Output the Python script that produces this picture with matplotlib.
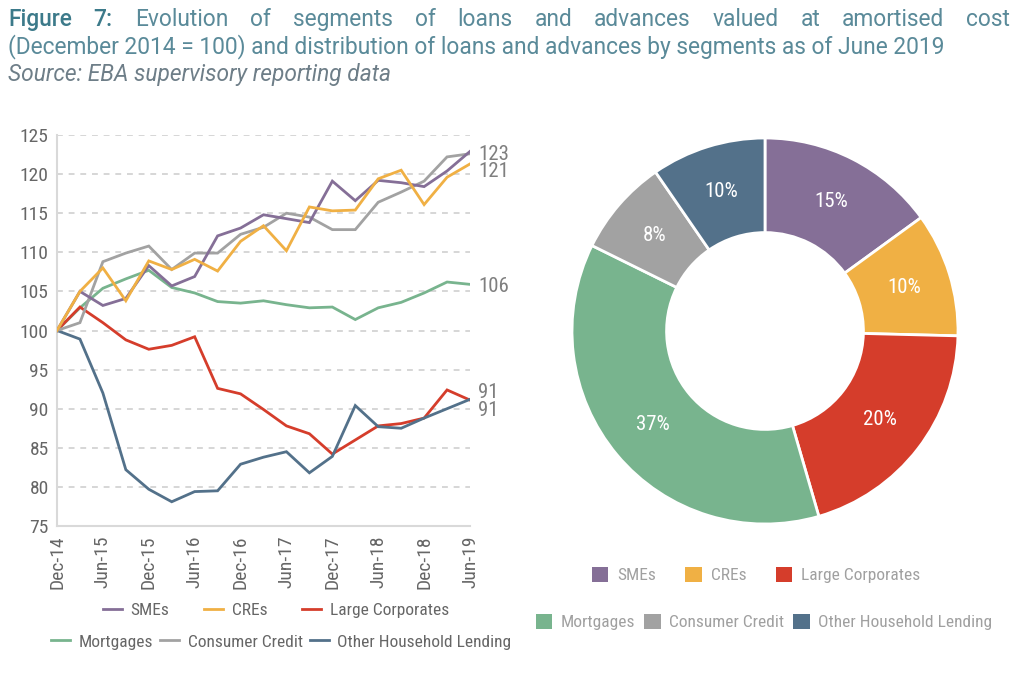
import matplotlib
matplotlib.use('Agg')
import matplotlib.pyplot as plt
from matplotlib import font_manager as fm
from matplotlib.lines import Line2D
from matplotlib.patches import Patch

# ---------------- data ----------------
quarters = ['Dec-14', 'Mar-15', 'Jun-15', 'Sep-15', 'Dec-15', 'Mar-16', 'Jun-16',
            'Sep-16', 'Dec-16', 'Mar-17', 'Jun-17', 'Sep-17', 'Dec-17', 'Mar-18',
            'Jun-18', 'Sep-18', 'Dec-18', 'Mar-19', 'Jun-19']
smes = [100, 105.0, 103.2, 104.1, 108.3, 105.7, 106.9, 112.1, 113.1, 114.8,
        114.3, 113.8, 119.1, 116.6, 119.2, 118.9, 118.4, 120.4, 122.9]
cres = [100, 105.0, 108.0, 103.8, 108.9, 107.8, 109.1, 107.6, 111.4, 113.4,
        110.2, 115.8, 115.3, 115.4, 119.4, 120.5, 116.1, 119.6, 121.3]
large_corporates = [100, 103.0, 101.0, 98.8, 97.6, 98.1, 99.2, 92.6, 91.9, 89.9,
                    87.8, 86.8, 84.2, 86.0, 87.8, 88.1, 88.8, 92.4, 91.1]
mortgages = [100, 102.9, 105.4, 106.6, 107.7, 105.5, 104.8, 103.7, 103.5, 103.8,
             103.3, 102.9, 103.0, 101.4, 102.9, 103.6, 104.8, 106.2, 105.9]
consumer_credit = [100, 101.0, 108.8, 109.9, 110.8, 107.8, 109.9, 109.9, 112.3, 113.2,
                   115.0, 114.5, 112.9, 112.9, 116.4, 117.7, 119.1, 122.2, 122.6]
other_household = [100, 98.9, 92.0, 82.2, 79.7, 78.1, 79.4, 79.5, 82.9, 83.8,
                   84.5, 81.8, 83.9, 90.4, 87.7, 87.5, 88.8, 90.0, 91.2]

segments = ['SMEs', 'CREs', 'Large Corporates', 'Mortgages', 'Consumer Credit',
            'Other Household Lending']
shares_jun19 = [15.0, 10.4, 20.1, 36.8, 8.1, 9.6]

y_ticks = [75, 80, 85, 90, 95, 100, 105, 110, 115, 120, 125]

title_line1 = 'Figure 7: Evolution of segments of loans and advances valued at amortised cost'
title_line2 = '(December 2014 = 100) and distribution of loans and advances by segments as of June 2019'
source_line = 'Source: EBA supervisory reporting data'

# ---------------- style ----------------
colors = {
    'SMEs': '#856F97',
    'CREs': '#F0B044',
    'Large Corporates': '#D53D2B',
    'Mortgages': '#78B48E',
    'Consumer Credit': '#A2A2A2',
    'Other Household Lending': '#53718A',
}

names = {f.name for f in fm.fontManager.ttflist}
stretch = 'normal'
if 'Roboto Condensed' in names:
    FONT = 'Roboto Condensed'
elif 'Liberation Sans Narrow' in names:
    FONT = 'Liberation Sans Narrow'
else:
    FONT = 'DejaVu Sans'
    stretch = 'condensed'
TITLE_FONT = 'Roboto' if 'Roboto' in names else 'DejaVu Sans'
plt.rcParams['font.family'] = [FONT, 'DejaVu Sans']
plt.rcParams['font.stretch'] = stretch

W, H = 1026, 686
fig = plt.figure(figsize=(W / 100, H / 100), dpi=100)
fig.patch.set_facecolor('white')

# ---------------- line chart ----------------
ax = fig.add_axes([57 / W, 1 - 526 / H, (470 - 57) / W, (526 - 135) / H])
series = [('SMEs', smes), ('CREs', cres), ('Large Corporates', large_corporates),
          ('Mortgages', mortgages), ('Consumer Credit', consumer_credit),
          ('Other Household Lending', other_household)]
x = list(range(len(quarters)))
draw_order = ['Mortgages', 'Large Corporates', 'Other Household Lending',
              'Consumer Credit', 'SMEs', 'CREs']
sd = dict(series)
for i, name in enumerate(draw_order):
    ax.plot(x, sd[name], color=colors[name], lw=2.0, zorder=3 + i,
            solid_joinstyle='miter')

ax.set_xlim(0, len(quarters) - 1)
ax.set_ylim(y_ticks[0], y_ticks[-1])
ax.set_yticks(y_ticks)
ax.set_xticks(x[::2])
ax.set_xticklabels(quarters[::2], rotation=90)
ax.tick_params(axis='both', length=0, labelsize=14, labelcolor='#666666')
ax.tick_params(axis='y', pad=6)
ax.tick_params(axis='x', pad=7)
ax.grid(axis='y', color='#CFCFCF', lw=1.2, linestyle=(0, (3.5, 3.5)), zorder=0)
for s in ['top', 'right']:
    ax.spines[s].set_visible(False)
for s in ['left', 'bottom']:
    ax.spines[s].set_color('#D9D9D9')
    ax.spines[s].set_linewidth(1.5)

# end labels (offsets in pixels, converted to points); SMEs and Consumer Credit
# both end at 123 and share one label, as in the reference
end_offsets = {'SMEs': -3, 'CREs': -8, 'Mortgages': -2,
               'Large Corporates': 8, 'Other Household Lending': -11}
for name, vals in series:
    if name not in end_offsets:
        continue
    ax.annotate(f'{round(vals[-1])}', xy=(x[-1], vals[-1]), xycoords='data',
                xytext=(8 * 0.72, end_offsets[name] * 0.72),
                textcoords='offset points', ha='left', va='center',
                fontsize=15, color='#7F7F7F', annotation_clip=False)

# line legends (two centred rows)
def line_handles(names_):
    return [Line2D([0], [0], color=colors[n], lw=2.0) for n in names_]

row1 = segments[:3]
row2 = segments[3:]
fig.legend(line_handles(row1), row1, loc='center', bbox_to_anchor=(276 / W, 1 - 610 / H),
           ncol=3, frameon=False, fontsize=12.5, labelcolor='#666666',
           handlelength=1.1, handletextpad=0.5, columnspacing=2.0)
fig.legend(line_handles(row2), row2, loc='center', bbox_to_anchor=(281 / W, 1 - 642 / H),
           ncol=3, frameon=False, fontsize=12.5, labelcolor='#666666',
           handlelength=1.1, handletextpad=0.5, columnspacing=0.4)

# ---------------- donut ----------------
R = 193
cx, cy = 765, 331
axp = fig.add_axes([(cx - R) / W, 1 - (cy + R) / H, 2 * R / W, 2 * R / H])
wedges, _, autotexts = axp.pie(
    shares_jun19, colors=[colors[s] for s in segments], startangle=90,
    counterclock=False, radius=1.0, autopct='%.0f%%', pctdistance=0.755,
    wedgeprops=dict(width=0.49, edgecolor='white', linewidth=2.0),
    textprops=dict(color='white', fontsize=15))
axp.set_xlim(-1, 1)
axp.set_ylim(-1, 1)
axp.set_aspect('equal')

def patch_handles(names_):
    return [Patch(facecolor=colors[n], edgecolor='none') for n in names_]

fig.legend(patch_handles(row1), row1, loc='center', bbox_to_anchor=(756 / W, 1 - 575 / H),
           ncol=3, frameon=False, fontsize=12.5, labelcolor='#A0A0A0',
           handlelength=0.95, handleheight=0.95, handletextpad=0.5, columnspacing=1.7)
fig.legend(patch_handles(row2), row2, loc='center', bbox_to_anchor=(764 / W, 1 - 622 / H),
           ncol=3, frameon=False, fontsize=12.5, labelcolor='#A0A0A0',
           handlelength=0.95, handleheight=0.95, handletextpad=0.5, columnspacing=0.5)

# ---------------- title (line 1 justified) ----------------
accent = '#3C7A8A'
title_color = '#5A8A99'
TSIZE = 16.4
fig.canvas.draw()
renderer = fig.canvas.get_renderer()
words = title_line1.split(' ')
word_texts = []
for i, w in enumerate(words):
    t = fig.text(0, 1 - 26 / H, w, fontsize=TSIZE, va='baseline', ha='left',
                 family=[TITLE_FONT, 'DejaVu Sans'], stretch='normal',
                 color=accent if i < 2 else title_color,
                 fontweight='medium' if i < 2 else 'normal')
    word_texts.append(t)
widths = [t.get_window_extent(renderer).width for t in word_texts]
x_left, x_right = 8, 1010
gap = (x_right - x_left - sum(widths)) / (len(words) - 1)
xpos = x_left
for t, wdt in zip(word_texts, widths):
    t.set_x(xpos / W)
    xpos += wdt + gap

fig.text(x_left / W, 1 - 53 / H, title_line2, fontsize=TSIZE, va='baseline', ha='left',
         family=[TITLE_FONT, 'DejaVu Sans'], stretch='normal', color=title_color)
fig.text(x_left / W, 1 - 81 / H, source_line, fontsize=TSIZE, va='baseline', ha='left',
         family=[TITLE_FONT, 'DejaVu Sans'], stretch='normal',
         color='#6E7E88', style='italic')

fig.savefig('out.png', dpi=100, facecolor='white')
